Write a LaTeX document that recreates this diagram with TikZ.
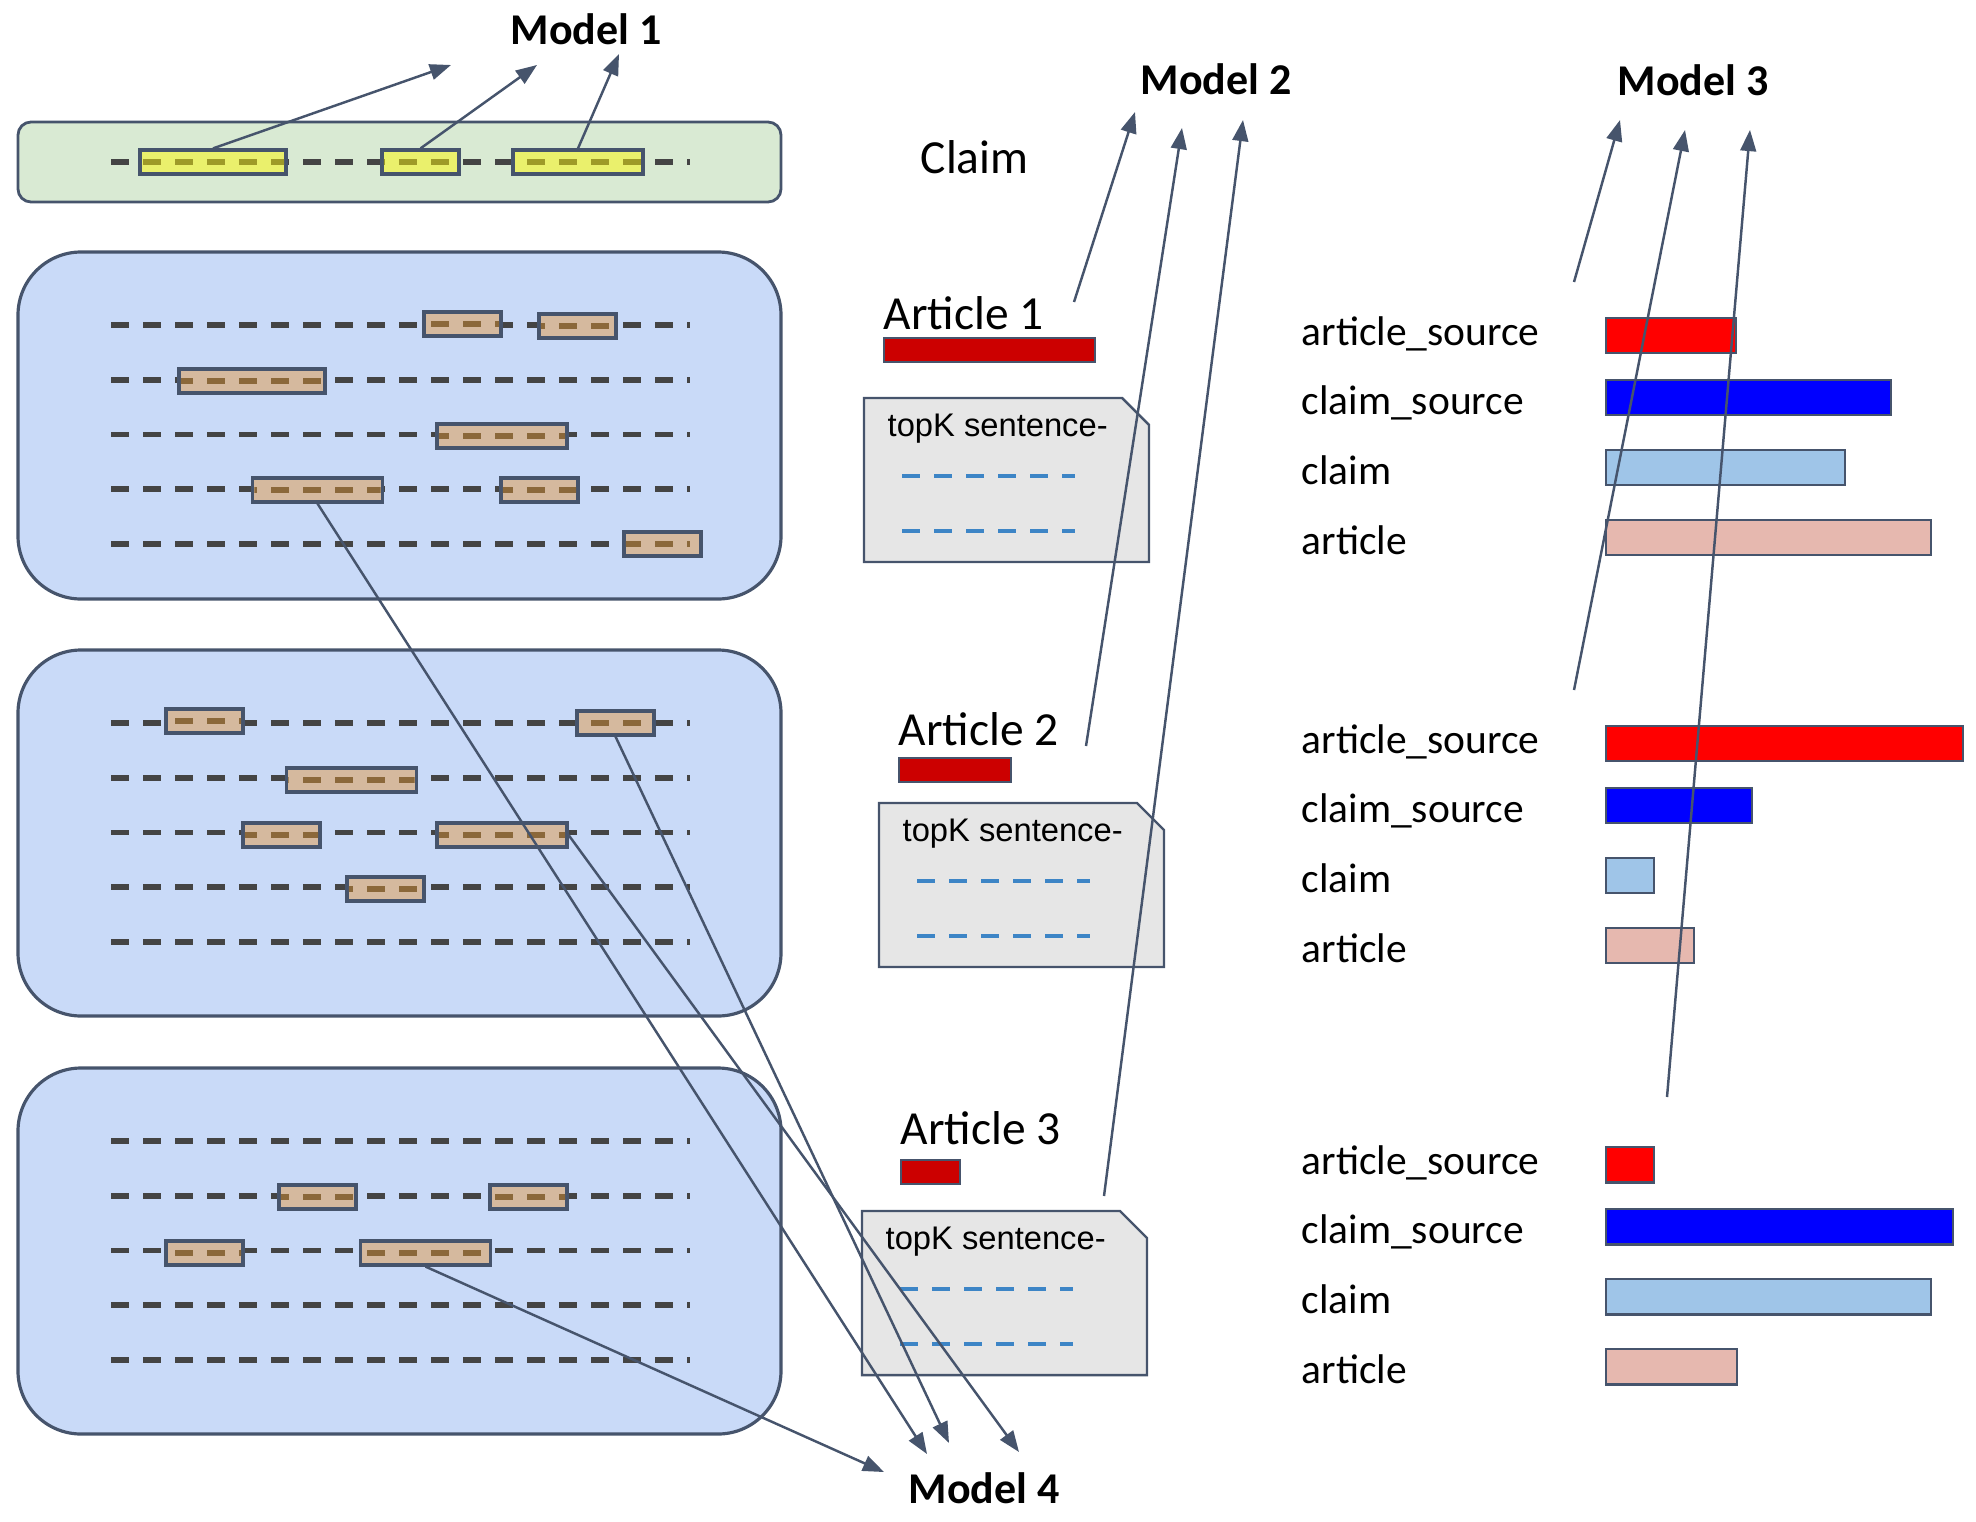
\documentclass[tikz,border=0pt]{standalone}
\usepackage{fontspec}
\setmainfont{Carlito}
\newfontfamily\notefont{Liberation Sans}
\usetikzlibrary{arrows.meta}
\usetikzlibrary{positioning}

\definecolor{slate}{RGB}{70,84,108}
\definecolor{linegray}{RGB}{68,68,68}
\definecolor{greenbg}{RGB}{217,234,211}
\definecolor{bluebg}{RGB}{201,218,248}
\definecolor{tanfill}{RGB}{213,185,158}
\definecolor{tandash}{RGB}{139,104,58}
\definecolor{yellowfill}{RGB}{234,240,108}
\definecolor{yellowdash}{RGB}{158,154,40}
\definecolor{notegray}{RGB}{230,230,230}
\definecolor{noteblue}{RGB}{61,133,198}
\definecolor{articlered}{RGB}{204,0,0}
\definecolor{srcred}{RGB}{255,0,0}
\definecolor{srcblue}{RGB}{0,0,255}
\definecolor{claimblue}{RGB}{159,197,232}
\definecolor{articlepink}{RGB}{230,184,175}

\tikzset{
  textline/.style={draw=linegray,line width=1.6pt,dash pattern=on 5.1pt off 4pt},
  tanhl/.style={draw=slate,line width=0.9pt,fill=tanfill,minimum height=0.24cm,inner sep=0pt},
  tanhl dash/.style={textline,draw=tandash},
  yellowhl/.style={draw=slate,line width=0.9pt,fill=yellowfill,minimum height=0.24cm,inner sep=0pt},
  yellowhl dash/.style={textline,draw=yellowdash},
  claimbox/.style={draw=slate,line width=0.8pt,fill=greenbg,rounded corners=0.13cm},
  passage/.style={draw=slate,line width=0.9pt,fill=bluebg,rounded corners=0.63cm},
  note/.style={draw=slate,line width=0.7pt,fill=notegray},
  notedash/.style={draw=noteblue,line width=1.3pt,dash pattern=on 5.1pt off 4pt},
  notetext/.style={anchor=base west,inner sep=0pt,font=\notefont\fontsize{9.3}{11}\selectfont},
  articlelabel/.style={anchor=base west,inner sep=0pt,font=\fontsize{13.5}{16}\selectfont},
  articlebar/.style={draw=slate,line width=0.7pt,fill=articlered,anchor=north west,minimum height=0.24cm,inner sep=0pt},
  scorelabel/.style={anchor=base west,inner sep=0pt,font=\fontsize{11.8}{14}\selectfont},
  scorebar/.style={draw=slate,line width=0.7pt,anchor=north west,minimum height=0.35cm,inner sep=0pt},
  model/.style={inner sep=0pt,font=\bfseries\fontsize{12.5}{15}\selectfont},
  feed/.style={slate,line width=0.7pt,-{Triangle[length=6pt,width=4.5pt]}},
}

% one evidence passage: box and five text lines
\newcommand\passage[2]{
  \draw[passage] (18,#1) rectangle (781,#1+#2);
  \foreach \r in {0,...,4} {
    \draw[textline] (111,#1+73+\r*54.7) -- (690,#1+73+\r*54.7);
  }
}

% highlighted snippet on a text line
\newcommand\snippet[5]{
  \node[#1,minimum width=#4*0.01cm] (#2) at (#3,#5) {};
  \begin{scope}
    \clip ([shift={(1pt,1pt)}]#2.south west) rectangle ([shift={(-1pt,-1pt)}]#2.north east);
    \draw[#1 dash] (111,#5) -- (690,#5);
  \end{scope}
}

\newcommand\articleblock[6]{
  \node[articlelabel] (#1) at (#3,#4) {#2};
  \node[articlebar,minimum width=#5*0.01cm] (#1-bar) at (#3,#4+#6) {};
}

\newcommand\topkbox[3]{
  \draw[note] (#2,#3) -- (#2+258,#3) -- (#2+285,#3+27) -- (#2+285,#3+164) -- (#2,#3+164) -- cycle;
  \node[notetext] (#1) at (#2+23,#3+38) {topK sentence-};
  \foreach \r in {78,133} {
    \draw[notedash] (#2+38,#3+\r) -- (#2+211,#3+\r);
  }
}

\newcommand\scores[6]{
  \foreach \lab/\fillc/\off/\len/\base [count=\i] in
    {article\_source/srcred/0/#3/28,claim\_source/srcblue/62/#4/97,claim/claimblue/132/#5/167,article/articlepink/202/#6/237} {
    \node[scorelabel] (#1-label\i) at (1301,#2+\base) {\lab};
    \node[scorebar,fill=\fillc,minimum width=\len*0.01cm] (#1-bar\i) at (1605,#2+\off) {};
  }
}

\begin{document}
\begin{tikzpicture}[x=0.01cm,y=-0.01cm]
  \useasboundingbox (0,0) rectangle (1976,1521);

  % claim
  \draw[claimbox] (18,122) rectangle (781,202);
  \draw[textline] (111,162) -- (690,162);
  \snippet{yellowhl}{y1}{213}{146}{162}
  \snippet{yellowhl}{y2}{420.5}{77}{162}
  \snippet{yellowhl}{y3}{578}{130}{162}

  % passages
  \passage{252}{347}
  \snippet{tanhl}{a11}{462.5}{77}{324}
  \snippet{tanhl}{a12}{577.5}{77}{326}
  \snippet{tanhl}{a21}{252}{146}{381}
  \snippet{tanhl}{a31}{502}{130}{436}
  \snippet{tanhl}{a41}{317.5}{130}{490}
  \snippet{tanhl}{a42}{539.5}{77}{490}
  \snippet{tanhl}{a51}{662.5}{77}{544}

  \passage{650}{366}
  \snippet{tanhl}{b11}{204.5}{77}{721}
  \snippet{tanhl}{b12}{615.5}{77}{723}
  \snippet{tanhl}{b21}{351.5}{130}{780}
  \snippet{tanhl}{b31}{281.5}{77}{835}
  \snippet{tanhl}{b32}{502}{130}{835}
  \snippet{tanhl}{b41}{385.5}{77}{889}

  \passage{1068}{366}
  \snippet{tanhl}{c21}{317.5}{77}{1197}
  \snippet{tanhl}{c22}{528.5}{77}{1197}
  \snippet{tanhl}{c31}{204.5}{77}{1253}
  \snippet{tanhl}{c32}{425.5}{130}{1253}

  % articles
  \node[articlelabel] (claim) at (920,173) {Claim};
  \articleblock{art1}{Article 1}{883}{329}{211}{8}
  \topkbox{topk1}{864}{398}
  \articleblock{art2}{Article 2}{898}{745}{112}{12}
  \topkbox{topk2}{879}{803}
  \articleblock{art3}{Article 3}{900}{1144}{59}{15}
  \topkbox{topk3}{862}{1211}

  % stance scores
  \scores{g1}{317}{130}{285}{239}{325}
  \scores{g2}{725}{357}{146}{48}{88}
  \scores{g3}{1146}{48}{347}{325}{131}

  % models
  \node[model] (model1) at (586,29) {Model 1};
  \node[model] (model2) at (1216,79) {Model 2};
  \node[model] (model3) at (1693,80) {Model 3};
  \node[model] (model4) at (984,1488) {Model 4};

  \coordinate (m1a) at (451,65);
  \coordinate (m1b) at (537,65);
  \coordinate (m1c) at (619,54);
  \coordinate (m2a) at (1135,112);
  \coordinate (m2b) at (1182,128);
  \coordinate (m2c) at (1243,120);
  \coordinate (m3a) at (1620,120);
  \coordinate (m3b) at (1685,130);
  \coordinate (m3c) at (1750,130);
  \coordinate (m4a) at (884,1472);
  \coordinate (m4b) at (927,1454);
  \coordinate (m4c) at (949,1443);
  \coordinate (m4d) at (1019,1452);
  \coordinate (art1out) at (1074,302);
  \coordinate (art2out) at (1086,746);
  \coordinate (art3out) at (1104,1196);
  \coordinate (g1out) at (1574,282);
  \coordinate (g2out) at (1574,690);
  \coordinate (g3out) at (1667,1097);

  \draw[feed] (y1.north) -- (m1a);
  \draw[feed] (y2.north) -- (m1b);
  \draw[feed] (y3.north) -- (m1c);

  \draw[feed] (art1out) -- (m2a);
  \draw[feed] (art2out) -- (m2b);
  \draw[feed] (art3out) -- (m2c);

  \draw[feed] (g1out) -- (m3a);
  \draw[feed] (g2out) -- (m3b);
  \draw[feed] (g3out) -- (m3c);

  \draw[feed] (c32.south) -- (m4a);
  \draw[feed] (a41.south) -- (m4b);
  \draw[feed] (b12.south) -- (m4c);
  \draw[feed] (b32.east) -- (m4d);
\end{tikzpicture}
\end{document}
